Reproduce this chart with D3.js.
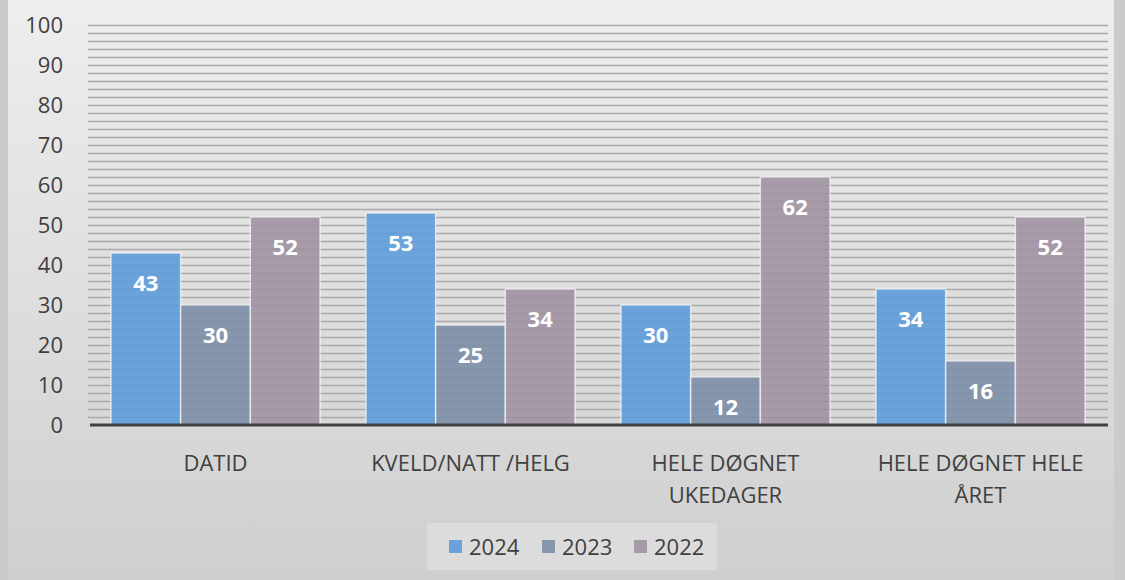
<!DOCTYPE html>
<html><head><meta charset="utf-8">
<script src="https://cdn.jsdelivr.net/npm/d3@7"></script>
<style>html,body{margin:0;padding:0;background:#d8d8d8;}svg{display:block;}</style>
</head><body>
<svg id="c" width="1125" height="580"></svg>
<script>
const categories = [["DATID"], ["KVELD/NATT /HELG"], ["HELE DØGNET", "UKEDAGER"], ["HELE DØGNET HELE", "ÅRET"]];
const seriesNames = ["2024", "2023", "2022"];
const values2024 = [43, 53, 30, 34];
const values2023 = [30, 25, 12, 16];
const values2022 = [52, 34, 62, 52];
const yTicks = [0, 10, 20, 30, 40, 50, 60, 70, 80, 90, 100];
const colors = ["#5a9bd8", "#7a8da6", "#9e8fa0"];

const series = [values2024, values2023, values2022];
const W = 1125, H = 580;
const m = {left: 88, right: 1108, top: 25, bottom: 425};
const font = "'Open Sans', 'Noto Sans', sans-serif";
const svg = d3.select("#c");

const defs = svg.append("defs");
const lg = defs.append("linearGradient").attr("id", "bg").attr("x1", 0).attr("y1", 0).attr("x2", 0).attr("y2", 1);
lg.append("stop").attr("offset", 0).attr("stop-color", "#eeeeee");
lg.append("stop").attr("offset", 1).attr("stop-color", "#cfcfcf");
svg.append("rect").attr("width", W).attr("height", H).attr("fill", "#cbcbcb");
svg.append("rect").attr("x", 8).attr("y", 0).attr("width", 1106).attr("height", H).attr("fill", "url(#bg)");

const x0 = d3.scaleBand().domain(d3.range(categories.length)).range([m.left, m.right]).paddingInner(0.18).paddingOuter(0.09);
const x1 = d3.scaleBand().domain(d3.range(seriesNames.length)).range([0, x0.bandwidth()]).padding(0);
const y = d3.scaleLinear().domain([0, 100]).range([m.bottom, m.top]);

// gridlines every 2 units
const grid = d3.range(2, 101, 2);
svg.append("g").selectAll("line").data(grid).join("line")
  .attr("x1", m.left).attr("x2", m.right)
  .attr("y1", d => Math.round(y(d)) + 0.5).attr("y2", d => Math.round(y(d)) + 0.5)
  .attr("stroke", "#a9a9a9").attr("stroke-width", 1.6);

// bars
const g = svg.append("g");
series.forEach((vals, si) => {
  g.selectAll(".b" + si).data(vals).join("rect")
    .attr("x", (d, i) => x0(i) + x1(si))
    .attr("y", d => y(d))
    .attr("width", x1.bandwidth())
    .attr("height", d => y(0) - y(d))
    .attr("fill", colors[si]).attr("fill-opacity", 0.88)
    .attr("stroke", "rgba(255,255,255,0.65)").attr("stroke-width", 1.5);
  g.selectAll(".t" + si).data(vals).join("text")
    .attr("x", (d, i) => x0(i) + x1(si) + x1.bandwidth() / 2)
    .attr("y", d => y(d) + 38)
    .attr("text-anchor", "middle")
    .attr("font-family", font).attr("font-weight", 700).attr("font-size", 22)
    .attr("fill", "#ffffff").text(d => d);
});

// axis line
svg.append("line").attr("x1", m.left + 2).attr("x2", m.right).attr("y1", y(0)).attr("y2", y(0))
  .attr("stroke", "#404040").attr("stroke-width", 3);

// y axis
const yAxis = d3.axisLeft(y).tickValues(yTicks).tickSize(0).tickPadding(0);
const ya = svg.append("g").attr("transform", "translate(63,0)").call(yAxis);
ya.select(".domain").remove();
ya.selectAll("text").attr("font-family", font).attr("font-size", 22).attr("fill", "#404040").attr("dy", "0.35em");

// category labels
const cat = svg.append("g");
categories.forEach((lines, i) => {
  const t = cat.append("text").attr("x", x0(i) + x0.bandwidth() / 2).attr("y", 471)
    .attr("text-anchor", "middle").attr("font-family", font).attr("font-size", 22).attr("fill", "#404040");
  lines.forEach((l, j) => t.append("tspan").attr("x", x0(i) + x0.bandwidth() / 2).attr("dy", j ? 32 : 0).text(l));
});

// legend
const leg = svg.append("g");
leg.append("rect").attr("x", 427).attr("y", 523).attr("width", 290).attr("height", 47).attr("fill", "#dcdcdc");
const legX = [449, 542, 634];
seriesNames.forEach((s, i) => {
  leg.append("rect").attr("x", legX[i]).attr("y", 540).attr("width", 13).attr("height", 13)
    .attr("fill", colors[i]).attr("fill-opacity", 0.88);
  leg.append("text").attr("x", legX[i] + 20).attr("y", 555).attr("font-family", font).attr("font-size", 22)
    .attr("fill", "#404040").text(s);
});
</script>
</body></html>
